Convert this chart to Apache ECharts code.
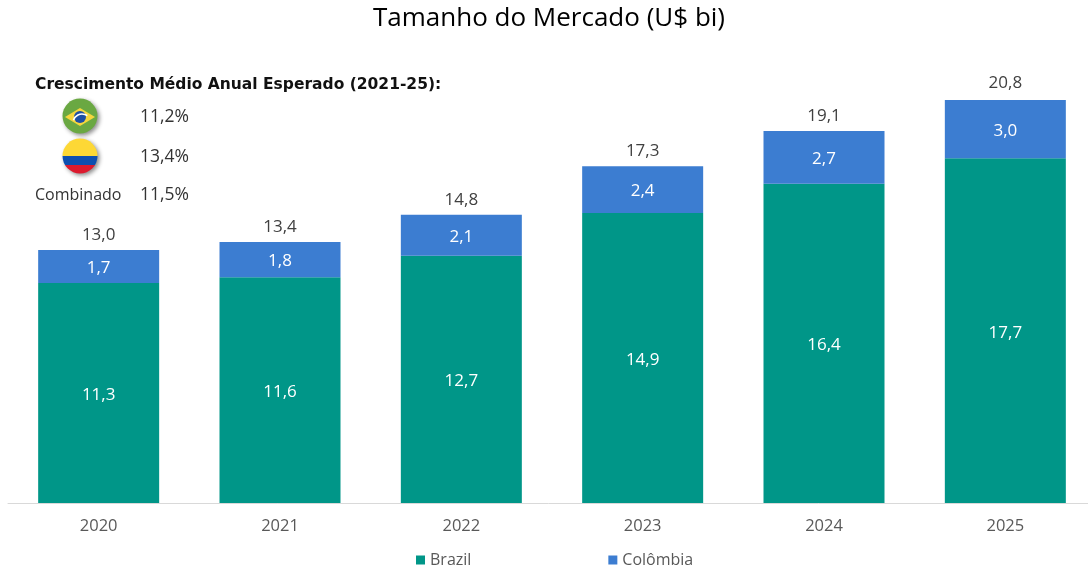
<!DOCTYPE html>
<html>
<head>
<meta charset="utf-8">
<title>Tamanho do Mercado</title>
<style>
html, body { margin: 0; padding: 0; background: #fff; overflow: hidden; }
#chart { width: 1088px; height: 571px; }
</style>
<script src="https://cdn.jsdelivr.net/npm/echarts@6/dist/echarts.min.js"></script>
</head>
<body>
<div id="chart"></div>
<script>
var years = ['2020', '2021', '2022', '2023', '2024', '2025'];
var brazil = [11.3, 11.6, 12.7, 14.9, 16.4, 17.7];
var colombia = [1.7, 1.8, 2.1, 2.4, 2.7, 3.0];
var totals = [13.0, 13.4, 14.8, 17.3, 19.1, 20.8];

var growthTitle = 'Crescimento Médio Anual Esperado (2021-25):';
var growthRates = ['11,2%', '13,4%', '11,5%'];
var combinedLabel = 'Combinado';

var labelFont = 'Open Sans';
var boldFont = 'DejaVu Sans';

// valores com virgula decimal
var fmt = function(p) {
    return p.value.toFixed(1).replace('.', ',');
};

var rateText = function(x, y, text, size) {
    return {
        type: 'text',
        x: x,
        y: y,
        style: { text: text, font: size + 'px "' + labelFont + '"', fill: '#333', textVerticalAlign: 'middle' }
    };
};

var shadow = { shadowBlur: 4, shadowColor: 'rgba(0,0,0,0.45)', shadowOffsetX: 2, shadowOffsetY: 2 };

var chart = echarts.init(document.getElementById('chart'));
chart.setOption({
    animation: false,
    title: {
        text: 'Tamanho do Mercado (U$ bi)',
        left: 544,
        top: 1,
        textAlign: 'center',
        textStyle: { fontFamily: labelFont, fontSize: 26, fontWeight: 'normal', color: '#000' }
    },
    grid: { left: 8, top: 98, width: 1088, bottom: 68, outerBoundsMode: 'none' },
    legend: {
        data: ['Brazil', 'Colômbia'],
        left: 411,
        top: 547,
        icon: 'rect',
        itemWidth: 9,
        itemHeight: 9,
        itemGap: 137,
        textStyle: { fontFamily: labelFont, fontSize: 16, color: '#595959' }
    },
    xAxis: {
        type: 'category',
        data: years,
        axisTick: { show: false },
        axisLine: { lineStyle: { color: '#d9d9d9', width: 1 } },
        axisLabel: { fontFamily: labelFont, fontSize: 16.5, color: '#595959', margin: 15 }
    },
    yAxis: { type: 'value', min: 0, max: 20.8, show: false },
    series: [
        {
            name: 'Brazil',
            type: 'bar',
            stack: 'mercado',
            barWidth: 121,
            data: brazil,
            itemStyle: { color: '#009688' },
            label: { show: true, position: 'inside', offset: [0, 2], formatter: fmt, fontFamily: labelFont, fontSize: 17, color: '#fff' }
        },
        {
            name: 'Colômbia',
            type: 'bar',
            stack: 'mercado',
            barWidth: 121,
            data: colombia,
            itemStyle: { color: '#3c7dd1' },
            label: { show: true, position: 'inside', offset: [0, 2], formatter: fmt, fontFamily: labelFont, fontSize: 17, color: '#fff' }
        },
        {
            // so para mostrar o total em cima das barras
            name: 'Total',
            type: 'scatter',
            data: totals,
            symbolSize: 1,
            itemStyle: { color: 'transparent', opacity: 1 },
            label: { show: true, position: 'top', distance: 6, formatter: fmt, fontFamily: labelFont, fontSize: 17, color: '#404040' }
        }
    ],
    graphic: [
        {
            type: 'text',
            x: 35,
            y: 85,
            style: { text: growthTitle, font: 'bold 15.5px "' + boldFont + '"', fill: '#111', textVerticalAlign: 'middle' }
        },
        rateText(140, 117, growthRates[0], 17.5),
        rateText(140, 157, growthRates[1], 17.5),
        rateText(140, 195, growthRates[2], 17.5),
        rateText(35, 195, combinedLabel, 16),
        // bandeira do Brasil
        { type: 'circle', shape: { cx: 80, cy: 116, r: 17.5 }, style: Object.assign({ fill: '#6aa842' }, shadow) },
        { type: 'polygon', shape: { points: [[65, 117], [80, 108], [95, 117], [80, 126]] }, style: { fill: '#f5d63d' } },
        { type: 'circle', shape: { cx: 80, cy: 117, r: 6 }, style: { fill: '#1f4fa3' } },
        { type: 'arc', shape: { cx: 82, cy: 123, r: 9, startAngle: Math.PI * 1.1, endAngle: Math.PI * 1.7 }, style: { stroke: '#fff', lineWidth: 1.5, fill: null } },
        // bandeira da Colombia
        {
            type: 'circle',
            shape: { cx: 80, cy: 156, r: 17.5 },
            style: Object.assign({
                fill: new echarts.graphic.LinearGradient(0, 0, 0, 1, [
                    { offset: 0, color: '#fdd835' },
                    { offset: 0.5, color: '#fdd835' },
                    { offset: 0.5, color: '#0d4fb0' },
                    { offset: 0.75, color: '#0d4fb0' },
                    { offset: 0.75, color: '#dc1a2e' },
                    { offset: 1, color: '#dc1a2e' }
                ])
            }, shadow)
        }
    ]
});
</script>
</body>
</html>
